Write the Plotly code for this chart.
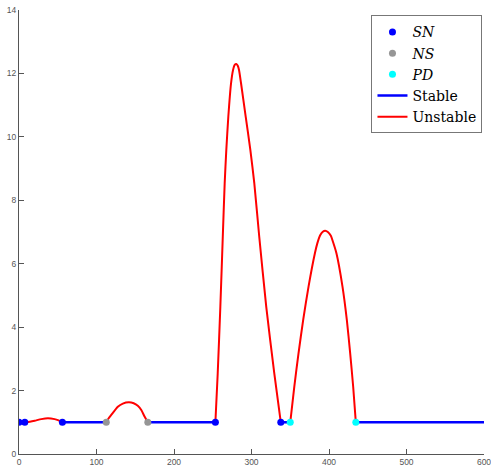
import plotly.graph_objects as go

# Branch points along the continuation curve
sn_x = [0, 7.5, 56, 253.4, 337.8]
sn_y = [1, 1, 1, 1, 1]
ns_x = [112.6, 166.2]
ns_y = [1, 1]
pd_x = [350, 434.6]
pd_y = [1, 1]

# Stable segments (None separates branches)
stable_x = [0, 7.5, None, 56, 112.6, None, 166.2, 253.4, None, 337.8, 350, None, 434.6, 600]
stable_y = [1, 1, None, 1, 1, None, 1, 1, None, 1, 1, None, 1, 1]

# Unstable segments
unstable_x = [
    7.5, 14, 20.2, 28.8, 37.4, 46.0, 50.3, 56, None,
    112.6, 115.5, 119, 127.5, 134, 141.7, 148, 153.3, 158, 162, 166.2, None,
    253.4, 256.4, 259.8, 262.8, 265.4, 267.5, 270.1, 273.6, 276.2, 278.3, 280.4,
    282.3, 283.9, 286.5, 292.5, 298.5, 303.6, 310, 319, 329.4, 337.8, None,
    350, 355.2, 360.7, 366.7, 373.6, 381.8, 385, 388.6, 392, 395.1,
    398.5, 402.4, 405, 409.6, 417.4, 423, 427.3, 431.2, 434.6,
]
unstable_y = [
    1, 1.02, 1.05, 1.10, 1.125, 1.10, 1.07, 1, None,
    1, 1.12, 1.23, 1.49, 1.59, 1.63, 1.60, 1.52, 1.38, 1.18, 1, None,
    1, 2.54, 4.65, 6.75, 8.54, 9.59, 10.64, 11.69, 12.11, 12.27, 12.30,
    12.24, 12.11, 11.69, 10.64, 9.59, 8.54, 6.85, 4.65, 2.54, 1, None,
    1, 2.12, 3.18, 4.23, 5.28, 6.33, 6.65, 6.90, 7.01, 7.04,
    7.00, 6.88, 6.70, 6.33, 5.28, 4.23, 3.18, 2.12, 1,
]

x_ticks = [0, 100, 200, 300, 400, 500, 600]
y_ticks = [0, 2, 4, 6, 8, 10, 12, 14]

fig = go.Figure()

fig.add_trace(go.Scatter(
    x=stable_x, y=stable_y, mode="lines", name="Stable",
    line=dict(color="rgb(0,0,255)", width=2.5), legendrank=4,
))
fig.add_trace(go.Scatter(
    x=unstable_x, y=unstable_y, mode="lines", name="Unstable",
    line=dict(color="rgb(255,0,0)", width=2, shape="spline", smoothing=0.6),
    legendrank=5,
))
fig.add_trace(go.Scatter(
    x=sn_x, y=sn_y, mode="markers", name="<i>SN</i>",
    marker=dict(color="rgb(0,0,255)", size=7), legendrank=1,
))
fig.add_trace(go.Scatter(
    x=ns_x, y=ns_y, mode="markers", name="<i>NS</i>",
    marker=dict(color="rgb(150,150,150)", size=7), legendrank=2,
))
fig.add_trace(go.Scatter(
    x=pd_x, y=pd_y, mode="markers", name="<i>PD</i>",
    marker=dict(color="rgb(0,255,255)", size=7), legendrank=3,
))

axis_common = dict(
    showgrid=False, zeroline=False, showline=True,
    linecolor="#555555", linewidth=1,
    ticks="inside", ticklen=5, tickcolor="#555555",
    ticklabeloverflow="allow", automargin=False,
    tickfont=dict(family="Liberation Sans, Arial", size=8.5, color="#555555"),
)

fig.update_layout(
    width=491, height=467,
    margin=dict(l=19, r=7, t=10, b=13),
    plot_bgcolor="white", paper_bgcolor="white",
    xaxis=dict(range=[0, 600], tickvals=x_ticks, **axis_common),
    yaxis=dict(range=[0, 14], tickvals=y_ticks, **axis_common),
    legend=dict(
        x=0.758, y=0.988, xanchor="left", yanchor="top",
        bgcolor="white", bordercolor="#777777", borderwidth=1,
        font=dict(family="DejaVu Serif", size=14, color="black"),
        itemwidth=30, tracegroupgap=0,
    ),
)

fig.write_html("out.html")
